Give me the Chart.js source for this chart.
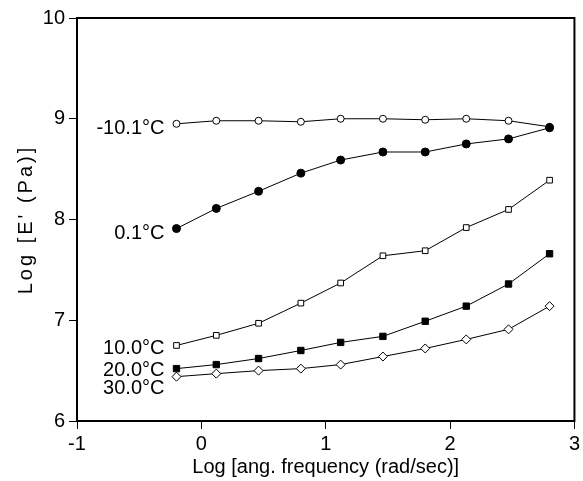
<!DOCTYPE html>
<html>
<head>
<meta charset="utf-8">
<script src="https://cdn.jsdelivr.net/npm/chart.js@4"></script>
<style>
body { margin: 0; background: #fff; }
#wrap { width: 583px; height: 481px; }
</style>
</head>
<body>
<div id="wrap"><canvas id="myChart"></canvas></div>
<script>
const logFreq = [-0.2, 0.12, 0.46, 0.8, 1.12, 1.46, 1.8, 2.13, 2.47, 2.8]

const temps = ['-10.1°C', '0.1°C', '10.0°C', '20.0°C', '30.0°C']
const eMinus10 = [8.95, 8.98, 8.98, 8.97, 9.0, 9.0, 8.99, 9.0, 8.98, 8.92]
const e0 = [7.91, 8.11, 8.28, 8.46, 8.59, 8.67, 8.67, 8.75, 8.8, 8.91]
const e10 = [6.75, 6.85, 6.97, 7.17, 7.37, 7.64, 7.69, 7.92, 8.1, 8.39]
const e20 = [6.52, 6.56, 6.62, 6.7, 6.78, 6.84, 6.99, 7.14, 7.36, 7.66]
const e30 = [6.44, 6.47, 6.5, 6.52, 6.56, 6.64, 6.72, 6.81, 6.91, 7.14]

// where the temperature labels sit (y value, left of first point)
const labelY = [8.9, 7.86, 6.72, 6.5, 6.32]

const xTicks = [-1, 0, 1, 2, 3]
const yTicks = [6, 7, 8, 9, 10]

const FONT = '"Liberation Sans", Arial, sans-serif'

function pts(ys) {
    let out = []
    for (let i = 0; i < logFreq.length; i++) {
        out.push({ x: logFreq[i], y: ys[i] })
    }
    return out
}

function makeSet(label, ys, style, fill, radius, order) {
    return {
        label: label,
        data: pts(ys),
        showLine: true,
        borderColor: '#000',
        borderWidth: 1,
        pointStyle: style,
        pointRadius: radius,
        pointBackgroundColor: fill,
        pointBorderColor: '#000',
        pointBorderWidth: 1,
        tension: 0,
        order: order
    }
}

const textPlugin = {
    id: 'texts',
    afterDraw(chart) {
        const ctx = chart.ctx
        const area = chart.chartArea
        const xs = chart.scales.x
        const ys = chart.scales.y
        ctx.save()
        // frame
        ctx.strokeStyle = '#000'
        ctx.lineWidth = 2
        ctx.strokeRect(area.left, area.top, area.right - area.left, area.bottom - area.top)

        ctx.fillStyle = '#000'
        ctx.font = '20px ' + FONT
        // series labels
        ctx.textAlign = 'right'
        ctx.textBaseline = 'middle'
        for (let i = 0; i < temps.length; i++) {
            ctx.fillText(temps[i], xs.getPixelForValue(logFreq[0]) - 12, ys.getPixelForValue(labelY[i]))
        }
        // x title
        ctx.textAlign = 'center'
        ctx.fillText('Log [ang. frequency (rad/sec)]', (area.left + area.right) / 2, 467)
        // y title
        ctx.translate(26, (area.top + area.bottom) / 2)
        ctx.rotate(-Math.PI / 2)
        ctx.letterSpacing = '3px'
        ctx.fillText("Log [E' (Pa)]", 0, 0)
        ctx.restore()
    }
}

new Chart(document.getElementById('myChart'), {
    type: 'scatter',
    data: {
        datasets: [
            makeSet(temps[0], eMinus10, 'circle', '#fff', 3.5, 5),
            makeSet(temps[1], e0, 'circle', '#000', 4, 1),
            makeSet(temps[2], e10, 'rect', '#fff', 4, 2),
            makeSet(temps[3], e20, 'rect', '#000', 4.5, 3),
            makeSet(temps[4], e30, 'rectRot', '#fff', 4.5, 4)
        ]
    },
    options: {
        responsive: true,
        maintainAspectRatio: false,
        animation: false,
        layout: { padding: { left: 0, top: 18, right: 8, bottom: 0 } },
        plugins: {
            legend: { display: false },
            tooltip: { enabled: false }
        },
        scales: {
            x: {
                type: 'linear',
                min: -1,
                max: 3,
                afterFit: (s) => { s.height = 60 },
                afterBuildTicks: (s) => { s.ticks = xTicks.map(v => ({ value: v })) },
                grid: { drawOnChartArea: false, drawTicks: true, tickLength: 8, color: '#000', lineWidth: 1 },
                border: { display: true, color: '#000', width: 2 },
                ticks: { color: '#000', font: { size: 20, family: FONT }, padding: 3, maxRotation: 0 }
            },
            y: {
                type: 'linear',
                min: 6,
                max: 10,
                afterFit: (s) => { s.width = 77 },
                afterBuildTicks: (s) => { s.ticks = yTicks.map(v => ({ value: v })) },
                grid: { drawOnChartArea: false, drawTicks: true, tickLength: 8, color: '#000', lineWidth: 1 },
                border: { display: true, color: '#000', width: 2 },
                ticks: { color: '#000', font: { size: 20, family: FONT }, padding: 4 }
            }
        }
    },
    plugins: [textPlugin]
})
</script>
</body>
</html>
